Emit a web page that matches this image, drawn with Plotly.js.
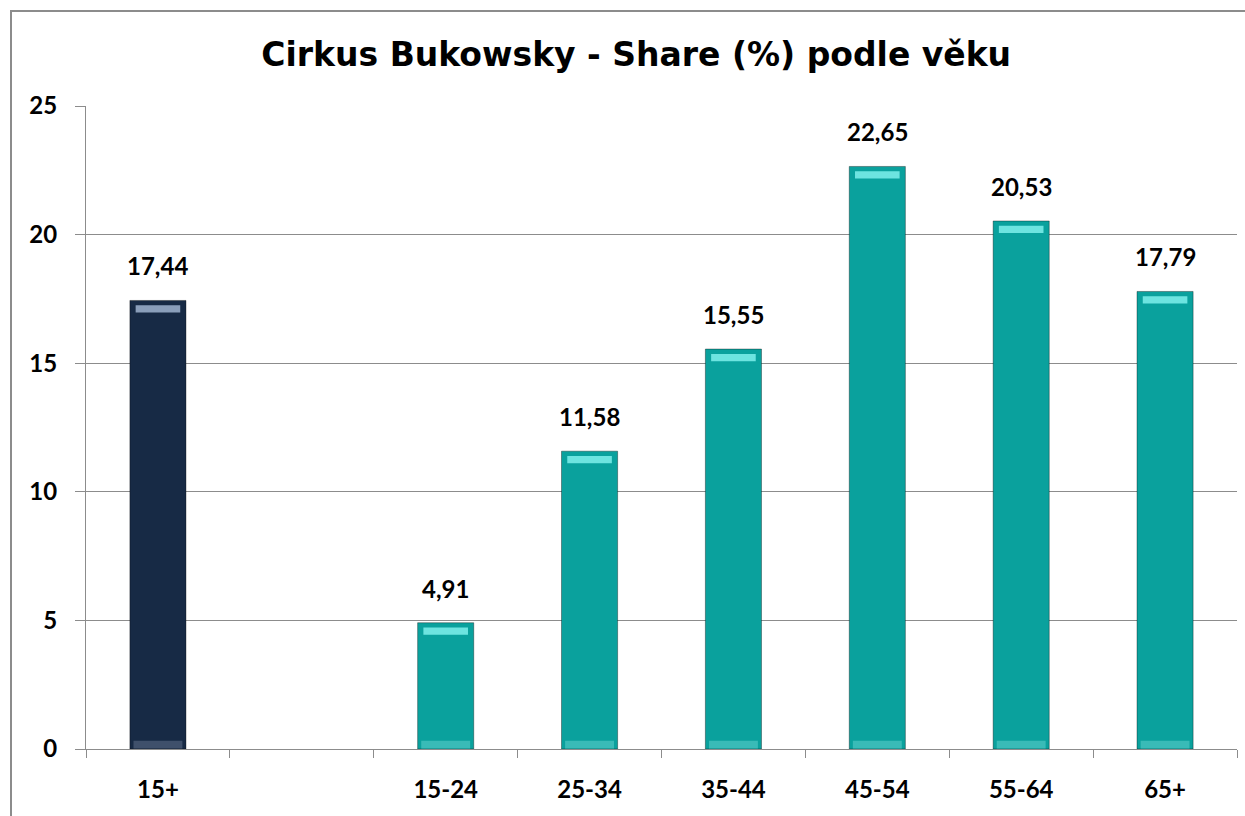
<!DOCTYPE html>
<html>
<head>
<meta charset="utf-8">
<script src="https://cdn.plot.ly/plotly-3.0.1.min.js"></script>
<style>
  html, body { margin: 0; padding: 0; background: #ffffff; overflow: hidden; }
  #wrap { position: relative; width: 1245px; height: 816px; }
  #chart { position: absolute; left: 0; top: 0; width: 1245px; height: 816px; }
  #frame { position: absolute; left: 10px; top: 10px; width: 1300px; height: 900px;
           border: 2px solid #8c8c8c; pointer-events: none; }
</style>
</head>
<body>
<div id="wrap">
  <div id="chart"></div>
  <div id="frame"></div>
</div>
<script>
// ---- data ----
const categories = ["15+", " ", "15-24", "25-34", "35-44", "45-54", "55-64", "65+"];
const shareValues = [17.44, null, 4.91, 11.58, 15.55, 22.65, 20.53, 17.79];
const valueLabels = ["17,44", "", "4,91", "11,58", "15,55", "22,65", "20,53", "17,79"];
const yTicks = [0, 5, 10, 15, 20, 25];

// ---- styles ----
const navy = "#172a45", teal = "#0aa19d";
const navyHi = "#9fb3cf", tealHi = "#7ff0ec";
const navyLo = "#4a5a74", tealLo = "#45c2be";
const barColors = categories.map((c, i) => i === 0 ? navy : teal);
const hiColors = categories.map((c, i) => i === 0 ? navyHi : tealHi);
const loColors = categories.map((c, i) => i === 0 ? navyLo : tealLo);
const labelFont = { family: "Lato, 'Open Sans', sans-serif", size: 24, color: "#000000", weight: "bold" };

const mainBars = {
  type: "bar", x: categories, y: shareValues, width: 0.39,
  marker: { color: barColors, line: { color: "rgba(0,0,0,0.35)", width: 1 } },
  hoverinfo: "x+y"
};
const topHi = {
  type: "bar", x: categories,
  y: shareValues.map(v => v == null ? null : 0.28),
  base: shareValues.map(v => v == null ? null : v - 0.47),
  width: 0.31, marker: { color: hiColors, opacity: 0.85 }, hoverinfo: "skip"
};
const bottomLo = {
  type: "bar", x: categories,
  y: shareValues.map(v => v == null ? null : 0.3),
  base: shareValues.map(v => v == null ? null : 0.02),
  width: 0.34, marker: { color: loColors, opacity: 0.8 }, hoverinfo: "skip"
};

const annotations = categories.map((c, i) => shareValues[i] == null ? null : ({
  x: c, y: shareValues[i], xref: "x", yref: "y", text: valueLabels[i],
  showarrow: false, yanchor: "bottom", yshift: 18, font: labelFont
})).filter(a => a);

const layout = {
  width: 1245, height: 816,
  margin: { l: 86, r: 8, t: 106, b: 67, pad: 0 },
  paper_bgcolor: "#ffffff", plot_bgcolor: "#ffffff",
  showlegend: false, barmode: "overlay",
  title: {
    text: "Cirkus Bukowsky - Share (%) podle věku",
    font: { family: "'DejaVu Sans', Verdana, sans-serif", size: 33, color: "#000000", weight: "bold" },
    x: 0.511, xref: "container", xanchor: "center",
    y: 0.933, yref: "container", yanchor: "middle"
  },
  xaxis: {
    type: "category", categoryorder: "array", categoryarray: categories,
    tickson: "boundaries", ticks: "outside", ticklen: 8, tickcolor: "#8c8c8c", tickwidth: 1,
    showline: true, linecolor: "#8c8c8c", linewidth: 1,
    showgrid: false, tickfont: labelFont, ticklabelstandoff: 19, fixedrange: true
  },
  yaxis: {
    range: [0, 25], tickvals: yTicks, ticktext: yTicks.map(String),
    ticks: "outside", ticklen: 10, tickcolor: "#8c8c8c", tickwidth: 1,
    showline: true, linecolor: "#8c8c8c", linewidth: 1,
    showgrid: true, gridcolor: "#8c8c8c", gridwidth: 1, zeroline: false,
    tickfont: labelFont, ticklabelstandoff: 13, fixedrange: true
  },
  annotations: annotations
};

Plotly.newPlot("chart", [mainBars, bottomLo, topHi], layout, { displayModeBar: false, staticPlot: true });
</script>
</body>
</html>
